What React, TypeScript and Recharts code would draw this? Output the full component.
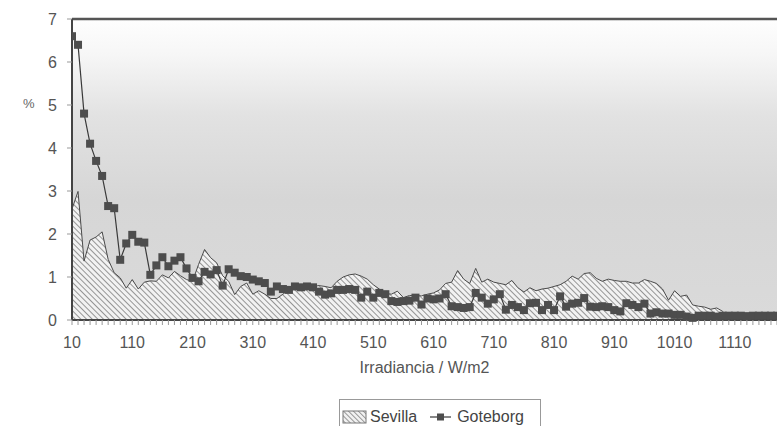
import React from 'react';
import { ComposedChart, Area, Line, XAxis, YAxis, CartesianGrid, ReferenceLine } from 'recharts';

const irradiance = [
  10, 20, 30, 40, 50, 60, 70, 80, 90, 100,
  110, 120, 130, 140, 150, 160, 170, 180, 190, 200,
  210, 220, 230, 240, 250, 260, 270, 280, 290, 300,
  310, 320, 330, 340, 350, 360, 370, 380, 390, 400,
  410, 420, 430, 440, 450, 460, 470, 480, 490, 500,
  510, 520, 530, 540, 550, 560, 570, 580, 590, 600,
  610, 620, 630, 640, 650, 660, 670, 680, 690, 700,
  710, 720, 730, 740, 750, 760, 770, 780, 790, 800,
  810, 820, 830, 840, 850, 860, 870, 880, 890, 900,
  910, 920, 930, 940, 950, 960, 970, 980, 990, 1000,
  1010, 1020, 1030, 1040, 1050, 1060, 1070, 1080, 1090, 1100,
  1110, 1120, 1130, 1140, 1150, 1160, 1170, 1180, 1190, 1200,
];

const sevilla = [
  2.58, 2.99, 1.37, 1.86, 1.93, 2.05, 1.41, 1.1, 0.98, 0.74,
  0.94, 0.72, 0.88, 0.91, 0.9, 1.05, 0.98, 1.13, 1.03, 0.94,
  0.9, 1.29, 1.64, 1.45, 1.33, 1.03, 0.9, 0.59, 0.78, 0.86,
  0.6, 0.68, 0.6, 0.5, 0.5, 0.6, 0.7, 0.8, 0.82, 0.8,
  0.78, 0.8, 0.78, 0.75, 0.9, 1.0, 1.05, 1.07, 1.02, 0.95,
  0.82, 0.72, 0.62, 0.6, 0.67, 0.52, 0.57, 0.57, 0.56, 0.6,
  0.63, 0.7, 0.85, 0.88, 1.15, 0.95, 0.85, 1.2, 0.88, 0.95,
  0.88, 0.85, 0.82, 0.92, 0.75, 0.65, 0.75, 0.68, 0.72, 0.74,
  0.78, 0.82, 0.9, 1.02, 0.95, 1.08, 1.1, 0.97, 0.9, 0.95,
  0.92, 0.9, 0.9, 0.86, 0.86, 0.94, 0.9, 0.85, 0.72, 0.46,
  0.68, 0.55, 0.58, 0.35, 0.32, 0.3, 0.25, 0.28, 0.2, 0.05,
  0, 0, 0, 0, 0, 0, 0, 0, 0, 0,
];

const goteborg = [
  6.6, 6.4, 4.8, 4.1, 3.7, 3.35, 2.65, 2.6, 1.4, 1.78,
  1.98, 1.82, 1.8, 1.05, 1.27, 1.46, 1.25, 1.38, 1.46, 1.2,
  0.98, 0.9, 1.12, 1.06, 1.16, 0.8, 1.18, 1.1, 1.02, 1.0,
  0.94, 0.9, 0.86, 0.66, 0.78, 0.72, 0.7, 0.78, 0.76, 0.78,
  0.76, 0.66, 0.59, 0.62, 0.7, 0.7, 0.72, 0.7, 0.52, 0.66,
  0.52, 0.63, 0.6, 0.44, 0.42, 0.44, 0.45, 0.52, 0.36, 0.5,
  0.48, 0.5, 0.6, 0.32, 0.3, 0.28, 0.3, 0.63, 0.52, 0.38,
  0.48, 0.6, 0.24, 0.35, 0.3, 0.23, 0.39, 0.4, 0.23, 0.35,
  0.23, 0.55, 0.31, 0.38, 0.4, 0.51, 0.31, 0.3, 0.32, 0.3,
  0.23, 0.2, 0.39, 0.35, 0.3, 0.38, 0.15, 0.18, 0.15, 0.15,
  0.12, 0.12, 0.08, 0.05, 0.1, 0.1, 0.1, 0.08, 0.1, 0.1,
  0.1, 0.1, 0.09, 0.1, 0.1, 0.1, 0.1, 0.1, 0.1, 0.1,
];

const xTickLabels = [10, 110, 210, 310, 410, 510, 610, 710, 810, 910, 1010, 1110];
const yTicks = [0, 1, 2, 3, 4, 5, 6, 7];

const X_MAX = 1180;
const data = irradiance.map((x, i) => ({ x, sevilla: sevilla[i], goteborg: goteborg[i] }));
const minorTicks = irradiance.filter((v) => v <= X_MAX);

const FONT = '"Liberation Sans", Arial, sans-serif';

const SquareDot = (props: any) => {
  const { cx, cy } = props;
  if (cx == null || cy == null) return null;
  return <rect x={cx - 4} y={cy - 4} width={8} height={8} fill="#4d4d4d" />;
};

export default function App() {
  return (
    <div style={{ position: 'absolute', left: 8, top: 8, width: 769, height: 418, overflow: 'hidden', fontFamily: FONT }}>
      <ComposedChart width={769} height={418} data={data} margin={{ top: 11, right: 0, left: 24, bottom: 50 }}>
        <defs>
          <linearGradient id="bgGrad" x1="0" y1="0" x2="0" y2="1">
            <stop offset="0%" stopColor="#fefefe" />
            <stop offset="12%" stopColor="#f6f6f6" />
            <stop offset="32%" stopColor="#e2e2e2" />
            <stop offset="60%" stopColor="#d6d6d6" />
            <stop offset="100%" stopColor="#dadada" />
          </linearGradient>
          <pattern id="hatch" width="4" height="4" patternUnits="userSpaceOnUse" patternTransform="rotate(45)">
            <rect width="4" height="4" fill="#f2f2f2" />
            <line x1="0" y1="0.5" x2="4" y2="0.5" stroke="#8a8a8a" strokeWidth="0.9" />
          </pattern>
        </defs>
        <CartesianGrid horizontal={false} vertical={false} fill="url(#bgGrad)" />
        <XAxis
          type="number"
          dataKey="x"
          domain={[10, X_MAX]}
          ticks={minorTicks}
          interval={0}
          allowDataOverflow
          tickFormatter={(v: number) => (xTickLabels.includes(v) ? String(v) : '')}
          tick={{ fontSize: 16, fill: '#555', fontFamily: FONT }}
          tickLine={{ stroke: '#999' }}
          tickSize={5}
          tickMargin={12}
          axisLine={{ stroke: '#444', strokeWidth: 2 }}
          height={56}
          label={{ value: 'Irradiancia   /   W/m2', position: 'insideBottom', offset: 3, fontSize: 16, fill: '#555', fontFamily: FONT }}
        />
        <YAxis
          type="number"
          domain={[0, 7]}
          ticks={yTicks}
          interval={0}
          width={40}
          tick={{ fontSize: 16, fill: '#555', fontFamily: FONT }}
          tickLine={{ stroke: '#999' }}
          tickSize={5}
          tickMargin={10}
          axisLine={{ stroke: '#444', strokeWidth: 2 }}
        />
        <ReferenceLine y={7} stroke="#555" strokeWidth={2.5} />
        <Area
          type="linear"
          dataKey="sevilla"
          stroke="#4a4a4a"
          strokeWidth={1}
          fill="url(#hatch)"
          fillOpacity={1}
          isAnimationActive={false}
          dot={false}
          activeDot={false}
        />
        <Line
          type="linear"
          dataKey="goteborg"
          stroke="#3a3a3a"
          strokeWidth={1.2}
          dot={<SquareDot />}
          activeDot={false}
          isAnimationActive={false}
        />
      </ComposedChart>
      <div style={{ position: 'absolute', left: 15, top: 88, fontSize: 13, color: '#666' }}>%</div>
      <div
        style={{
          position: 'absolute',
          left: 331,
          top: 391,
          width: 200,
          height: 34,
          border: '1px solid #999',
          background: '#fff',
          display: 'flex',
          alignItems: 'center',
          fontSize: 16,
          color: '#444',
        }}
      >
        <svg width={26} height={16} style={{ marginLeft: 2 }}>
          <defs>
            <pattern id="hatchLeg" width="3.5" height="3.5" patternUnits="userSpaceOnUse" patternTransform="rotate(45)">
              <rect width="3.5" height="3.5" fill="#f2f2f2" />
              <line x1="0" y1="0.5" x2="3.5" y2="0.5" stroke="#8a8a8a" strokeWidth="0.9" />
            </pattern>
          </defs>
          <rect x={1} y={2} width={23} height={12} fill="url(#hatchLeg)" stroke="#777" strokeWidth={1} />
        </svg>
        <span style={{ marginLeft: 2 }}>Sevilla</span>
        <svg width={24} height={16} style={{ marginLeft: 12 }}>
          <line x1={1} y1={8} x2={22} y2={8} stroke="#3a3a3a" strokeWidth={1.2} />
          <rect x={8} y={4.5} width={7} height={7} fill="#4d4d4d" />
        </svg>
        <span style={{ marginLeft: 4 }}>Goteborg</span>
      </div>
    </div>
  );
}
